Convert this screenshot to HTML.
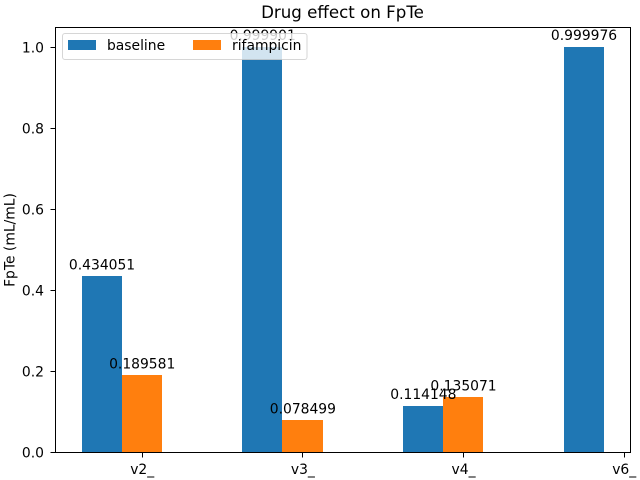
<!DOCTYPE html>
<html>
<head>
<meta charset="utf-8">
<title>Drug effect on FpTe</title>
<style>
html,body{margin:0;padding:0;background:#fff;width:640px;height:480px;overflow:hidden}
svg{display:block}
text{font-family:"DejaVu Sans","Liberation Sans",sans-serif;fill:#000}
</style>
</head>
<body>
<svg id="chart" xmlns="http://www.w3.org/2000/svg" width="640" height="480" viewBox="0 0 640 480">
  <rect x="0" y="0" width="640" height="480" fill="#ffffff"/>
  <text x="342.5" y="18" font-size="16.67" text-anchor="middle">Drug effect on FpTe</text>
  <text transform="translate(14.5,240) rotate(-90)" font-size="13.89" text-anchor="middle">FpTe (mL/mL)</text>
  <g id="bars"></g>
  <g id="labels"></g>
  <g id="axes"></g>
  <g>
    <rect x="62.5" y="33.5" width="244.5" height="26" rx="2.5" ry="2.5" fill="#ffffff" fill-opacity="0.8" stroke="#cccccc" stroke-opacity="0.8" stroke-width="1"/>
    <g>
      <rect x="68" y="40" width="28" height="10" fill="#1f77b4"/>
      <text x="107" y="50" font-size="13.89">baseline</text>
    </g>
    <g>
      <rect x="193" y="40" width="28" height="10" fill="#ff7f0e"/>
      <text x="232" y="50" font-size="13.89">rifampicin</text>
    </g>
  </g>
</svg>
<script>
var categories = ['v2_', 'v3_', 'v4_', 'v6_'];
var baselineValues = [0.434051, 0.999901, 0.114148, 0.999976];
var rifampicinValues = [0.189581, 0.078499, 0.135071, null];
var yTickValues = [0, 0.2, 0.4, 0.6, 0.8, 1.0];
var yTickLabels = ['0.0', '0.2', '0.4', '0.6', '0.8', '1.0'];

var SVG_NS = 'http://www.w3.org/2000/svg';
var plotLeft = 55.5, plotRight = 630.5, plotTop = 27.5, plotBottom = 452.5;
var barSlots = 0.25;

function xScale(i) { return 141.8 + i * 160.67; }
function yScale(v) { return 451.9 - v * 405.1; }
function make(tag, attrs, parent) {
  var el = document.createElementNS(SVG_NS, tag);
  for (var k in attrs) { el.setAttribute(k, attrs[k]); }
  parent.appendChild(el);
  return el;
}

var barsGroup = document.getElementById('bars');
var labelsGroup = document.getElementById('labels');
var axesGroup = document.getElementById('axes');
var slotWidth = xScale(barSlots) - xScale(0);

function drawSeries(values, seriesName, colour, offset) {
  values.forEach(function (v, i) {
    if (v === null) { return; }
    var left = xScale(i + offset);
    var top = yScale(v);
    var x0 = Math.round(left);
    var x1 = Math.round(left + slotWidth);
    var y0 = Math.round(top);
    var y1 = Math.round(yScale(0));
    var bar = make('rect', { x: x0, y: y0, width: x1 - x0, height: y1 - y0, fill: colour }, barsGroup);
    
    
    var label = make('text', { x: left + slotWidth / 2 + 0.4, y: top - 6.7, 'font-size': 13.89, 'text-anchor': 'middle' }, labelsGroup);
    label.textContent = v.toFixed(6);
    
    
  });
}
drawSeries(baselineValues, 'baseline', '#1f77b4', -1.5 * barSlots);
drawSeries(rifampicinValues, 'rifampicin', '#ff7f0e', -0.5 * barSlots);

yTickValues.forEach(function (v, i) {
  var y = Math.round(yScale(v)) + 0.5;
  var tick = make('line', { x1: plotLeft - 5, x2: plotLeft, y1: y, y2: y, stroke: '#000', 'stroke-width': 1, 'shape-rendering': 'crispEdges' }, axesGroup);
  
  
  var text = make('text', { x: plotLeft - 11.5, y: y + 5, 'font-size': 13.89, 'text-anchor': 'end' }, axesGroup);
  text.textContent = yTickLabels[i];
  
  
});

categories.forEach(function (c, i) {
  var x = Math.round(xScale(i)) + 0.5;
  var tick = make('line', { x1: x, x2: x, y1: plotBottom, y2: plotBottom + 5, stroke: '#000', 'stroke-width': 1, 'shape-rendering': 'crispEdges' }, axesGroup);
  
  
  var text = make('text', { x: xScale(i) + 0.4, y: plotBottom + 21.5, 'font-size': 13.89, 'text-anchor': 'middle' }, axesGroup);
  text.textContent = c;
  
  
});

var frame = make('rect', { x: plotLeft, y: plotTop, width: plotRight - plotLeft, height: plotBottom - plotTop, fill: 'none', stroke: '#000', 'stroke-width': 1, 'shape-rendering': 'crispEdges' }, axesGroup);


</script>
</body>
</html>
